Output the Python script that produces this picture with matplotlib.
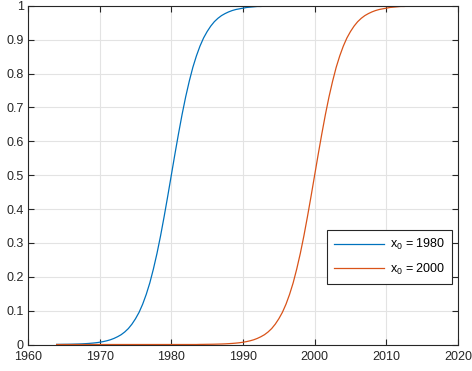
import matplotlib
matplotlib.use("Agg")
import matplotlib.pyplot as plt

plt.rcParams["font.family"] = ["Liberation Sans", "DejaVu Sans"]
plt.rcParams["mathtext.fontset"] = "custom"
plt.rcParams["mathtext.rm"] = "Liberation Sans"
plt.rcParams["mathtext.it"] = "Liberation Sans"

# half-year samples, 1964 .. 2020
years = [1964 + 0.5 * i for i in range(113)]

# the S-shaped rise, from 16 years before x0 to 14 after
rise = [
    0.0003, 0.0004, 0.0006, 0.0007, 0.0009, 0.0012, 0.0015, 0.0019, 0.0025, 0.0032,
    0.0041, 0.0052, 0.0067, 0.0086, 0.011, 0.014, 0.018, 0.023, 0.029, 0.037,
    0.047, 0.060, 0.076, 0.095, 0.119, 0.148, 0.182, 0.223, 0.269, 0.321,
    0.378, 0.438, 0.5, 0.562, 0.622, 0.679, 0.731, 0.777, 0.818, 0.852,
    0.881, 0.905, 0.924, 0.940, 0.953, 0.963, 0.971, 0.977, 0.982, 0.986,
    0.989, 0.991, 0.993, 0.995, 0.996, 0.997, 0.998, 0.998, 0.999, 0.999,
    0.999,
]

blue_vals = rise + [1.0] * 52           # x0 = 1980
orange_vals = [0.0] * 40 + rise + [1.0] * 12   # x0 = 2000

labels = [r"x$_0$ = 1980", r"x$_0$ = 2000"]
colors = ["#0072BD", "#D95319"]

xticks = list(range(1960, 2021, 10))
yticks = [i / 10 for i in range(11)]
ytick_labels = ["0", "0.1", "0.2", "0.3", "0.4", "0.5", "0.6", "0.7", "0.8", "0.9", "1"]

fig = plt.figure(figsize=(4.72, 3.71), dpi=100)
ax = fig.add_axes([0.0593, 0.0714, 0.911, 0.913])

ax.plot(years, blue_vals, color=colors[0], linewidth=0.9, label=labels[0])
ax.plot(years, orange_vals, color=colors[1], linewidth=0.9, label=labels[1])

ax.set_xlim(1960, 2020)
ax.set_ylim(0, 1)
ax.set_xticks(xticks)
ax.set_yticks(yticks)
ax.set_yticklabels(ytick_labels)

ax.grid(True, color="#e3e3e3", linewidth=0.8)
ax.set_axisbelow(True)
for s in ax.spines.values():
    s.set_color("#262626")
    s.set_linewidth(0.8)
ax.tick_params(direction="in", length=4, width=0.8, colors="#262626",
               labelsize=9, top=True, right=True, pad=3)
ax.tick_params(axis="x", pad=5)

leg = ax.legend(loc="lower right", bbox_to_anchor=(0.987, 0.18), fontsize=9,
                fancybox=False, framealpha=1, edgecolor="#262626",
                handlelength=4.0, handletextpad=0.5, borderpad=0.55,
                labelspacing=0.75, borderaxespad=0)
leg.get_frame().set_linewidth(0.8)

fig.savefig("out.png", dpi=100)
